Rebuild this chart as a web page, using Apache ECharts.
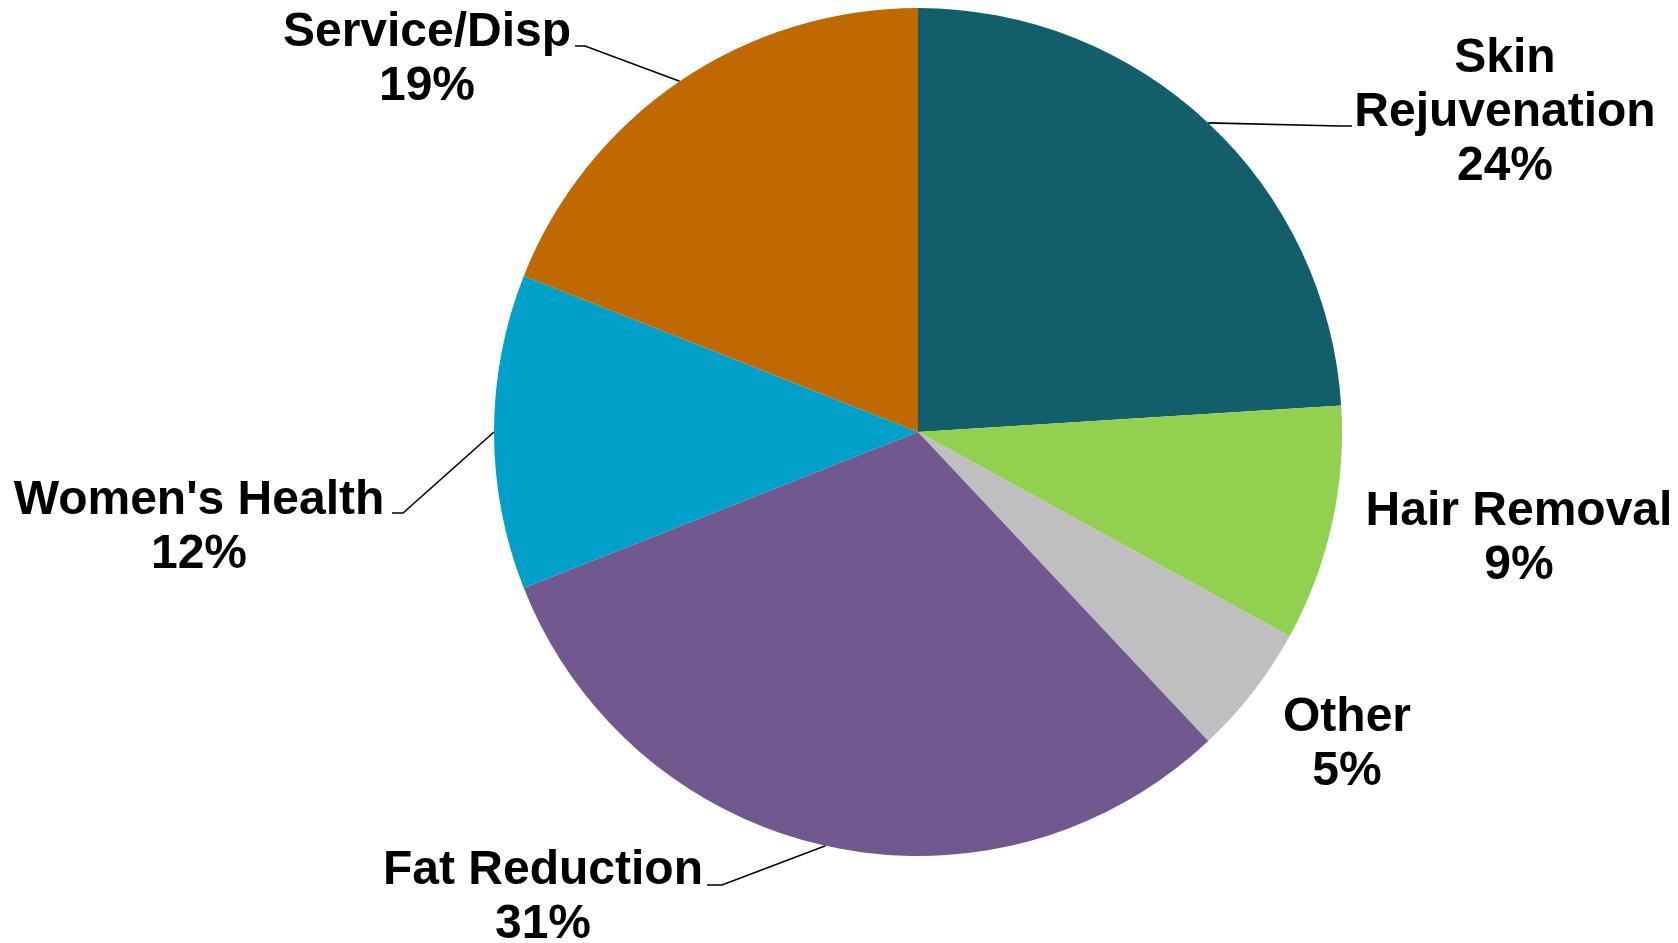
<!DOCTYPE html>
<html>
<head>
<meta charset="utf-8">
<script src="https://cdn.jsdelivr.net/npm/echarts@6/dist/echarts.min.js"></script>
<style>
  html, body { margin: 0; padding: 0; background: #ffffff; }
  #chart { width: 1678px; height: 943px; }
</style>
</head>
<body>
<div id="chart"></div>
<script>
// Revenue mix by segment, clockwise from 12 o'clock
const categories = ['Skin Rejuvenation', 'Hair Removal', 'Other', 'Fat Reduction', "Women's Health", 'Service/Disp'];
const labelNames = ['Skin\nRejuvenation', 'Hair Removal', 'Other', 'Fat Reduction', "Women's Health", 'Service/Disp'];
const shares = [24, 9, 5, 31, 12, 19];
const colors = ['#135E6B', '#92D050', '#BFBFBF', '#71588F', '#00A0C8', '#BF6900'];

// Label block centres and leader-line elbows, in pixels
const labelPlacement = [
  { x: 1505, y: 113, elbow: [[1340, 126], [1352, 126]] },
  { x: 1519, y: 539, elbow: null },
  { x: 1347, y: 745, elbow: null },
  { x: 543,  y: 898, elbow: [[722, 885], [707, 885]] },
  { x: 199,  y: 528, elbow: [[403, 513], [392, 513]] },
  { x: 427,  y: 60,  elbow: [[585, 46], [575, 46]] }
];

const chart = echarts.init(document.getElementById('chart'), null, { renderer: 'canvas' });

const seriesData = categories.map((name, i) => ({
  name: name,
  value: shares[i],
  itemStyle: { color: colors[i] },
  labelLine: { show: labelPlacement[i].elbow !== null }
}));

chart.setOption({
  animation: false,
  backgroundColor: '#ffffff',
  series: [{
    type: 'pie',
    center: [918, 432],
    radius: 424,
    startAngle: 90,
    clockwise: true,
    avoidLabelOverlap: false,
    percentPrecision: 0,
    emphasis: { disabled: true },
    itemStyle: { borderWidth: 0 },
    label: {
      show: true,
      position: 'outside',
      formatter: p => labelNames[p.dataIndex] + '\n' + Math.round(p.percent) + '%',
      fontFamily: '"Liberation Sans", Arial, sans-serif',
      fontWeight: 'bold',
      fontSize: 48,
      lineHeight: 54,
      color: '#000000',
      align: 'center'
    },
    labelLine: {
      show: true,
      length: 20,
      length2: 20,
      lineStyle: { color: '#000000', width: 1.6 }
    },
    labelLayout: function (p) {
      const pl = labelPlacement[p.dataIndex];
      const out = { x: pl.x, y: pl.y, align: 'center', verticalAlign: 'middle' };
      if (pl.elbow && p.labelLinePoints) {
        out.labelLinePoints = [p.labelLinePoints[0], pl.elbow[0], pl.elbow[1]];
      }
      return out;
    },
    data: seriesData
  }]
});
</script>
</body>
</html>
